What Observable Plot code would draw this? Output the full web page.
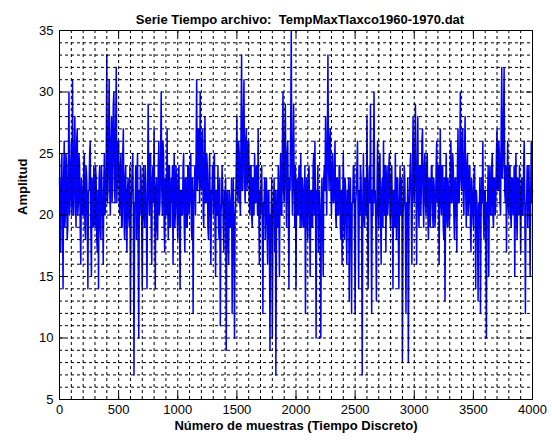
<!DOCTYPE html>
<html>
<head>
<meta charset="utf-8">
<script src="https://cdn.jsdelivr.net/npm/d3@7"></script>
<script src="https://cdn.jsdelivr.net/npm/@observablehq/plot@0.6"></script>
<style>
  html, body { margin: 0; padding: 0; background: #fff; }
</style>
</head>
<body>
<div id="chart"></div>
<script>
// Daily max temperature, every 5 samples
const sampleStep = 5;
const seg0 = [23,21,17,24,25,20,14,23,26,19,20,25,24,18,19,24,30,20,21,24,
  26,20,31,22,20,25,28,21,19,26,27,20,21,25,24,19,16,23,22,20,
  20,24,25,19,18,24,23,20,14,22,22,25,26,19,15,23,21,19,24,20,
  19,24,23,18,17,22,14,23,24,19,18,24,22,20,16,23,25,20,21,24,
  33,21,22,27,31,22,20,26,28,21,24,29,30,22,21,27,32,21,23,26];
const seg1 = [26,21,20,24,25,19,19,25,27,20,18,23,24,19,17,22,23,20,19,24,
  12,20,22,24,25,19,7,21,21,24,18,23,25,18,10,22,20,24,23,19,
  14,22,24,20,19,24,22,19,14,23,29,22,20,25,25,19,16,23,24,21,
  27,21,14,22,23,19,18,24,26,20,21,25,30,22,20,26,25,19,17,23,
  22,20,27,21,18,24,24,19,19,23,21,24,16,22,25,19,20,24,23,20];
const seg2 = [18,23,24,19,14,22,22,20,20,24,25,19,17,23,23,19,19,24,24,20,
  21,24,25,19,18,23,12,21,22,24,20,25,31,22,23,27,26,21,30,23,
  22,26,27,20,19,25,28,21,21,25,24,19,18,23,25,20,16,22,22,24,
  20,24,25,19,15,22,22,20,24,19,18,23,11,20,21,24,22,19,17,22,
  20,23,9,21,22,18,16,22,21,19,19,23,12,20,23,18,10,20,21,24];
const seg3 = [28,22,21,26,25,21,20,27,33,22,22,28,31,23,21,26,27,22,23,26,
  26,21,20,24,24,20,19,23,22,20,25,21,21,24,23,20,27,21,16,22,
  20,23,24,19,12,21,21,23,18,22,23,19,16,22,22,18,9,20,20,23,
  10,20,21,23,17,22,7,20,22,19,24,20,15,23,25,20,20,26,30,22,
  21,26,29,22,19,25,26,21,14,23,22,27,35,23,20,25,29,22,19,24];
const seg4 = [14,22,23,20,20,24,24,19,25,21,19,23,22,19,20,24,12,21,23,20,
  18,23,24,20,15,22,22,19,19,24,25,20,26,21,10,22,21,24,17,22,
  21,19,10,22,23,19,15,23,24,22,28,23,20,26,33,24,22,26,27,22,
  20,24,25,21,21,24,26,20,19,23,23,20,20,24,24,19,18,22,16,21,
  25,20,18,23,22,19,16,22,20,23,13,21,23,19,12,21,21,24,24,19];
const seg5 = [12,21,22,24,26,20,14,22,20,24,23,19,7,21,25,20,19,23,22,20,
  28,21,14,22,24,21,29,20,12,22,20,25,30,21,22,19,13,22,26,21,
  19,24,25,20,16,22,23,19,26,21,20,24,17,22,24,20,21,24,25,20,
  19,23,24,20,14,22,22,19,25,21,18,23,23,19,14,21,24,20,20,23,
  8,20,21,24,23,19,12,21,19,23,8,20,22,24,25,20,16,23,28,22];
const seg6 = [21,25,29,22,16,23,28,21,19,24,24,20,22,26,27,21,19,24,25,21,
  20,24,25,20,18,23,23,19,21,24,24,20,19,23,22,19,20,24,26,21,
  21,24,16,22,27,21,20,24,24,19,18,23,13,21,25,20,19,23,22,19,
  20,24,26,21,21,25,24,20,18,23,23,20,17,24,27,21,21,25,30,23,
  22,26,27,21,20,25,28,22,19,24,25,20,21,24,24,19,17,23,22,20];
const seg7 = [19,23,24,20,14,22,21,19,13,21,20,23,12,20,23,21,26,20,18,22,
  22,19,10,21,21,24,15,22,24,20,20,24,25,20,19,23,23,20,21,25,
  27,22,22,26,25,21,20,27,32,23,24,28,32,22,21,24,17,22,26,21,
  20,24,24,20,19,23,23,20,21,24,15,22,25,20,18,23,22,20,24,21,
  17,22,23,20,20,24,26,21,12,21,21,24,19,23,24,20,15,22,26,21, 22];

const xTicks = [0, 500, 1000, 1500, 2000, 2500, 3000, 3500, 4000];
const yTicks = [5, 10, 15, 20, 25, 30, 35];
const xMinor = d3.range(0, 4001, 100);
const yMinor = d3.range(5, 36, 1);

const titleText = "Serie Tiempo archivo:  TempMaxTlaxco1960-1970.dat";
const xLabel = "Número de muestras (Tiempo Discreto)";
const yLabel = "Amplitud";

const values = [].concat(seg0, seg1, seg2, seg3, seg4, seg5, seg6, seg7);
const data = values.map((v, i) => ({x: i * sampleStep, y: v}));

const W = 552, H = 443;
const mL = 59, mR = 20, mT = 30, mB = 44;
const frameH = H - mT - mB;
const frameW = W - mL - mR;

const chart = Plot.plot({
  width: W,
  height: H,
  marginLeft: mL,
  marginRight: mR,
  marginTop: mT,
  marginBottom: mB,
  style: {fontFamily: "'Liberation Sans', Arial, sans-serif", fontSize: "13px", color: "#000", background: "#fff"},
  x: {domain: [0, 4000]},
  y: {domain: [5, 35]},
  marks: [
    Plot.lineY(data, {x: "x", y: "y", stroke: "#0000ff", strokeWidth: 1.5}),
    Plot.gridX(xMinor, {stroke: "#000", strokeOpacity: 1, strokeWidth: 1, strokeDasharray: "3,3"}),
    Plot.gridY(yMinor, {stroke: "#000", strokeOpacity: 1, strokeWidth: 1, strokeDasharray: "3,3"}),
    // inward tick marks
    Plot.ruleX(xTicks, {x: d => d, insetTop: frameH - 6, stroke: "#000"}),
    Plot.ruleX(xTicks, {x: d => d, insetBottom: frameH - 6, stroke: "#000"}),
    Plot.ruleY(yTicks, {y: d => d, insetRight: frameW - 6, stroke: "#000"}),
    Plot.ruleY(yTicks, {y: d => d, insetLeft: frameW - 6, stroke: "#000"}),
    Plot.frame({stroke: "#000", strokeWidth: 1}),
    Plot.axisX(xTicks, {anchor: "bottom", tickSize: 0, tickPadding: 5, label: null, tickFormat: d => String(d), fontSize: 13, fill: "#000"}),
    Plot.axisY(yTicks, {anchor: "left", tickSize: 0, tickPadding: 6, label: null, tickFormat: d => String(d), fontSize: 13, fill: "#000"}),
    Plot.text([titleText], {frameAnchor: "top", dy: -16, text: d => d, fontWeight: "bold", fontSize: 13, fill: "#000", dx: 4}),
    Plot.text([xLabel], {frameAnchor: "bottom", dy: 30, text: d => d, fontWeight: "bold", fontSize: 13, fill: "#000"}),
    Plot.text([yLabel], {frameAnchor: "left", dx: -37, text: d => d, rotate: -90, fontWeight: "bold", fontSize: 13, fill: "#000"})
  ]
});
document.getElementById("chart").appendChild(chart);
</script>
</body>
</html>
